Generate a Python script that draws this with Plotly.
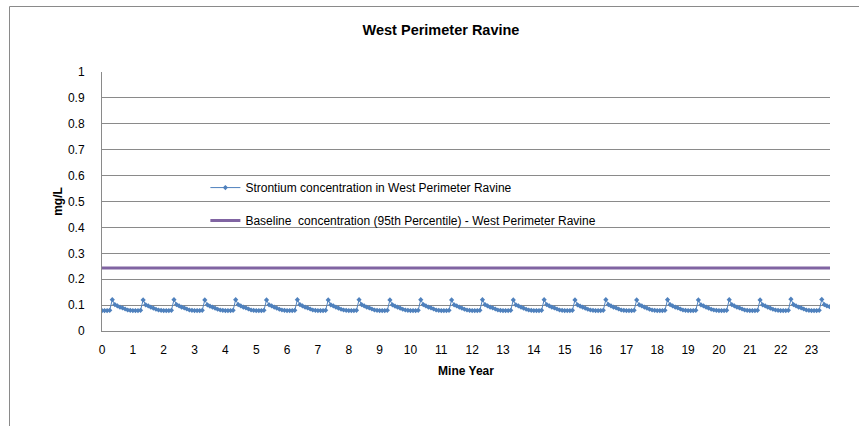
import plotly.graph_objects as go

# ---- data ----
months_per_year = 12
# Strontium concentration (mg/L), monthly values, one row per mine year 0..23
sr_year_values = [
    [0.079, 0.079, 0.079, 0.080, 0.121, 0.102, 0.097, 0.092, 0.089, 0.085, 0.081, 0.080],
    [0.079, 0.079, 0.079, 0.080, 0.120, 0.101, 0.097, 0.092, 0.088, 0.084, 0.081, 0.080],
    [0.079, 0.079, 0.079, 0.080, 0.121, 0.102, 0.097, 0.092, 0.089, 0.085, 0.081, 0.080],
    [0.079, 0.079, 0.079, 0.080, 0.120, 0.101, 0.096, 0.092, 0.088, 0.084, 0.081, 0.080],
    [0.079, 0.079, 0.079, 0.080, 0.121, 0.102, 0.097, 0.092, 0.089, 0.085, 0.081, 0.080],
    [0.079, 0.079, 0.079, 0.080, 0.120, 0.101, 0.097, 0.092, 0.088, 0.084, 0.081, 0.080],
    [0.079, 0.079, 0.079, 0.080, 0.121, 0.102, 0.097, 0.092, 0.089, 0.085, 0.081, 0.080],
    [0.079, 0.079, 0.079, 0.080, 0.120, 0.101, 0.097, 0.092, 0.088, 0.084, 0.081, 0.080],
    [0.079, 0.079, 0.079, 0.080, 0.121, 0.102, 0.097, 0.092, 0.089, 0.085, 0.081, 0.080],
    [0.079, 0.079, 0.079, 0.080, 0.120, 0.101, 0.096, 0.092, 0.088, 0.084, 0.081, 0.080],
    [0.079, 0.079, 0.079, 0.080, 0.121, 0.102, 0.097, 0.092, 0.089, 0.085, 0.081, 0.080],
    [0.079, 0.079, 0.079, 0.080, 0.120, 0.101, 0.097, 0.092, 0.088, 0.084, 0.081, 0.080],
    [0.079, 0.079, 0.079, 0.080, 0.121, 0.102, 0.097, 0.092, 0.089, 0.085, 0.081, 0.080],
    [0.079, 0.079, 0.079, 0.080, 0.120, 0.101, 0.097, 0.092, 0.088, 0.084, 0.081, 0.080],
    [0.079, 0.079, 0.079, 0.080, 0.121, 0.102, 0.097, 0.092, 0.089, 0.085, 0.081, 0.080],
    [0.079, 0.079, 0.079, 0.080, 0.120, 0.101, 0.096, 0.092, 0.088, 0.084, 0.081, 0.080],
    [0.079, 0.079, 0.079, 0.080, 0.121, 0.102, 0.097, 0.092, 0.089, 0.085, 0.081, 0.080],
    [0.079, 0.079, 0.079, 0.080, 0.120, 0.101, 0.097, 0.092, 0.088, 0.084, 0.081, 0.080],
    [0.079, 0.079, 0.079, 0.080, 0.121, 0.102, 0.097, 0.092, 0.089, 0.085, 0.081, 0.080],
    [0.079, 0.079, 0.079, 0.080, 0.120, 0.101, 0.097, 0.092, 0.088, 0.084, 0.081, 0.080],
    [0.079, 0.079, 0.079, 0.080, 0.121, 0.102, 0.097, 0.092, 0.089, 0.085, 0.081, 0.080],
    [0.079, 0.079, 0.079, 0.080, 0.120, 0.101, 0.097, 0.092, 0.088, 0.084, 0.081, 0.080],
    [0.079, 0.079, 0.079, 0.080, 0.123, 0.102, 0.097, 0.092, 0.089, 0.085, 0.081, 0.080],
    [0.079, 0.079, 0.079, 0.080, 0.122, 0.102, 0.097, 0.094, 0.091],
]
baseline_value = 0.243
baseline_x = [0, 23.6]

series_sr_name = "Strontium concentration in West Perimeter Ravine"
series_base_name = "Baseline  concentration (95th Percentile) - West Perimeter Ravine"
title_text = "<b>West Perimeter Ravine</b>"
x_title = "<b>Mine Year</b>"
y_title = "<b>mg/L</b>"
x_ticks = list(range(0, 24))
y_ticks = [0, 0.1, 0.2, 0.3, 0.4, 0.5, 0.6, 0.7, 0.8, 0.9, 1]

# build time axis
sr_x, sr_y = [], []
for yr, vals in enumerate(sr_year_values):
    for m, v in enumerate(vals):
        sr_x.append(yr + m / months_per_year)
        sr_y.append(v)

FONT = "Liberation Sans, Arial, sans-serif"
GRID = "#8a8a8a"

W, H = 859, 426
L, R, T, B = 102, 29, 72, 95
PW = W - L - R
PH = H - T - B

fig = go.Figure()
fig.add_trace(go.Scatter(
    x=sr_x, y=sr_y, mode="lines+markers", name=series_sr_name,
    line=dict(color="#4F81BD", width=1),
    marker=dict(symbol="diamond", size=4, color="#4F81BD"),
    legendgroup="a",
))
fig.add_trace(go.Scatter(
    x=baseline_x, y=[baseline_value, baseline_value], mode="lines", name=series_base_name,
    line=dict(color="#8064A2", width=3),
    legendgroup="b",
))

# chart-area border (left and top edges visible in the window)
bx0 = (9.5 - L) / PW
by1 = (H - B - 6.5) / PH
fig.update_layout(
    width=W, height=H,
    margin=dict(l=L, r=R, t=T, b=B),
    paper_bgcolor="white", plot_bgcolor="white",
    font=dict(family=FONT, size=12, color="#000000"),
    title=dict(text=title_text, x=441 / W, xref="container", xanchor="center",
               y=1 - 30 / H, yref="container", yanchor="middle",
               font=dict(family="Liberation Sans Narrow, " + FONT, size=14.5, color="#000000")),
    showlegend=True,
    legend=dict(x=0.142, y=0.49, xanchor="left", yanchor="middle",
                bgcolor="rgba(0,0,0,0)", borderwidth=0,
                traceorder="grouped", tracegroupgap=14,
                font=dict(family=FONT, size=12, color="#000000")),
    shapes=[
        dict(type="line", xref="paper", yref="paper", x0=bx0, x1=1.3, y0=by1, y1=by1,
             line=dict(color="#8a8a8a", width=1), layer="above"),
        dict(type="line", xref="paper", yref="paper", x0=bx0, x1=bx0, y0=-0.6, y1=by1,
             line=dict(color="#8a8a8a", width=1), layer="above"),
    ],
)
fig.update_xaxes(
    range=[0, 23.6], tickmode="array", tickvals=x_ticks, ticktext=[str(t) for t in x_ticks],
    showgrid=False, showline=True, linecolor=GRID, linewidth=1, zeroline=False,
    ticks="", ticklabelstandoff=8,
    title=dict(text=x_title, font=dict(family=FONT, size=12), standoff=10),
    tickfont=dict(family=FONT, size=12, color="#000000"),
)
fig.update_yaxes(
    range=[0, 1], tickmode="array", tickvals=y_ticks,
    ticktext=["0", "0.1", "0.2", "0.3", "0.4", "0.5", "0.6", "0.7", "0.8", "0.9", "1"],
    showgrid=True, gridcolor=GRID, gridwidth=1, showline=True, linecolor=GRID, linewidth=1,
    zeroline=False, ticks="", ticklabelstandoff=14,
    title=dict(text=y_title, font=dict(family=FONT, size=12), standoff=2),
    tickfont=dict(family=FONT, size=12, color="#000000"),
)

fig.write_html(
    "out.html",
    config={"displayModeBar": False},
    post_script="document.body.style.margin='0';document.body.style.overflow='hidden';",
)
